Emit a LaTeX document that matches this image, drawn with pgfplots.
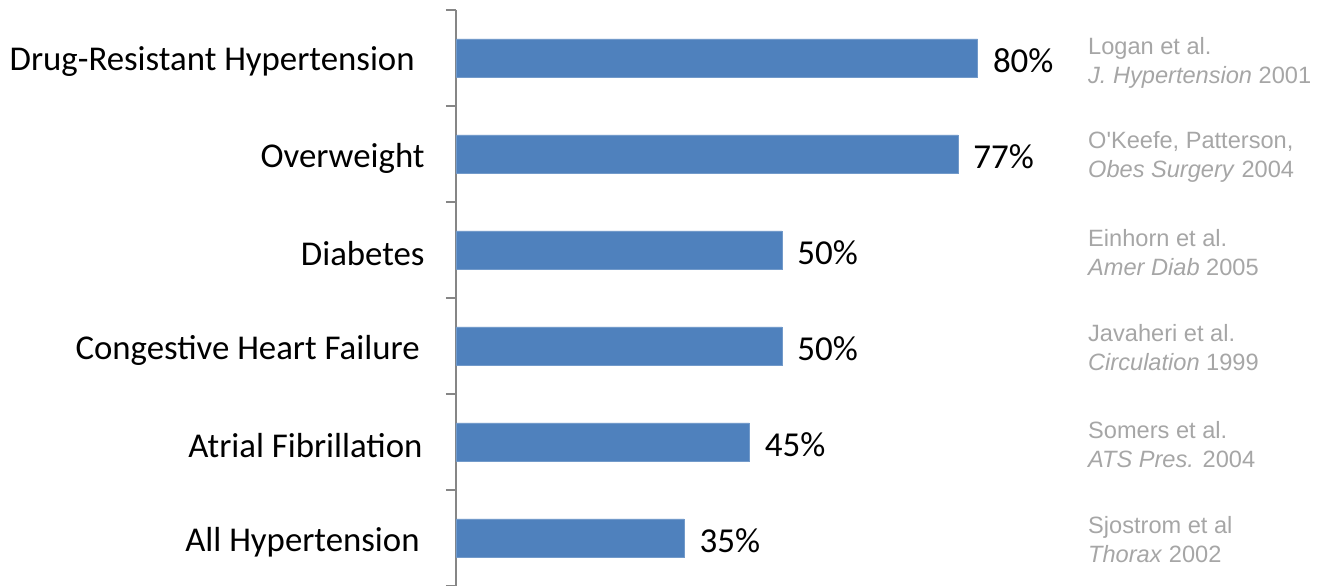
\documentclass[border=0pt]{standalone}
\usepackage{fontspec}
\setmainfont{Carlito}
\newfontfamily\reffont{Liberation Sans}
\usepackage{pgfplots}
\pgfplotsset{compat=1.18}
\definecolor{barblue}{RGB}{79,129,189}
\definecolor{refgray}{RGB}{166,166,166}
\definecolor{axgray}{RGB}{134,134,134}

\begin{document}
\begin{tikzpicture}
\begin{axis}[
    scale only axis,
    width=326pt, height=288pt,
    xmin=0, xmax=100,
    ymin=-0.5, ymax=5.5,
    y dir=reverse,
    hide x axis,
    axis y line*=left,
    y axis line style={draw=axgray, line width=0.6pt},
    ytick={0,...,5},
    yticklabels={Drug-Resistant Hypertension\rule{5pt}{0pt},Overweight,Diabetes,Congestive Heart Failure\rule{2.5pt}{0pt},Atrial Fibrillation\rule{1pt}{0pt},All Hypertension\rule{2.5pt}{0pt}},
    major tick length=0pt,
    minor ytick={-0.5,0.5,...,5.5},
    minor tick length=5pt,
    tick align=outside,
    minor tick style={draw=axgray, line width=0.6pt},
    yticklabel style={font=\fontsize{17.4}{20}\selectfont, inner sep=0pt, anchor=east, xshift=-15.5pt, yshift=-2pt},
    xbar, bar width=19pt,
    /pgf/number format/assume math mode=true,
    nodes near coords={\pgfmathprintnumber{\pgfplotspointmeta}\%},
    every node near coord/.append style={font=\fontsize{17.5}{20}\selectfont, anchor=west, inner sep=0pt, xshift=7.5pt, yshift=-1.5pt},
    clip=false,
]
\addplot[fill=barblue, draw=barblue!80!white] coordinates {(80,0) (77,1) (50,2) (50,3) (45,4) (35,5)};
\begin{scope}[every node/.style={anchor=west, align=left, inner sep=0pt, text=refgray, font=\reffont\fontsize{11.8}{14.5}\selectfont}]
\node at (axis cs:96.9,0.05) {Logan et al.\\\textit{J. Hypertension} 2001};
\node at (axis cs:96.9,1.03) {O'Keefe, Patterson,\\\textit{Obes Surgery} 2004};
\node at (axis cs:96.9,2.03) {Einhorn et al.\\\textit{Amer Diab} 2005};
\node at (axis cs:96.9,3.02) {Javaheri et al.\\\textit{Circulation} 1999};
\node at (axis cs:96.9,4.03) {Somers et al.\\\textit{ATS Pres.} 2004};
\node at (axis cs:96.9,5.02) {Sjostrom et al\\\textit{Thorax} 2002};
\end{scope}
\coordinate (top) at (axis cs:0,-0.5);
\coordinate (bot) at (axis cs:0,5.5);
\end{axis}
\pgfresetboundingbox
\path ([xshift=-228pt]bot) rectangle ([xshift=433pt,yshift=5pt]top);
\end{tikzpicture}
\end{document}
